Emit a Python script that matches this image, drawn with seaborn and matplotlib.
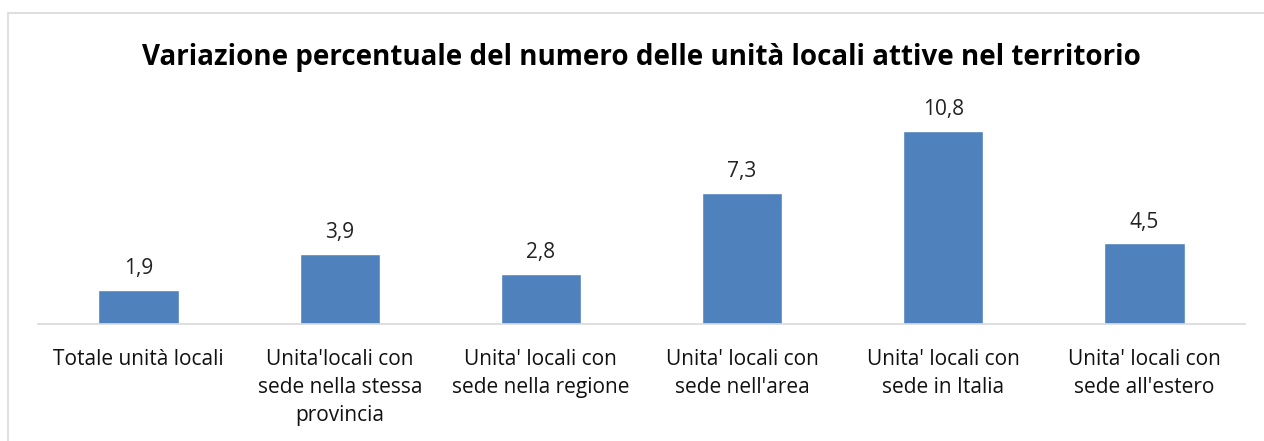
import seaborn as sns
import matplotlib.pyplot as plt
from matplotlib.patches import Rectangle

categories = [
    "Totale unità locali",
    "Unita'locali con\nsede nella stessa\nprovincia",
    "Unita' locali con\nsede nella regione",
    "Unita' locali con\nsede nell'area",
    "Unita' locali con\nsede in Italia",
    "Unita' locali con\nsede all'estero",
]
values = [1.9, 3.9, 2.8, 7.3, 10.8, 4.5]
value_labels = ["1,9", "3,9", "2,8", "7,3", "10,8", "4,5"]

sns.set_style("white")
plt.rcParams["font.family"] = ["Open Sans", "DejaVu Sans"]

fig = plt.figure(figsize=(12.64, 4.41), dpi=100)
ax = fig.add_axes([38 / 1264, 1 - 324 / 441, (1245 - 38) / 1264, (324 - 109) / 441])

sns.barplot(x=categories, y=values, color="#4F81BD", width=0.4, saturation=1, ax=ax)
ax.set_ylim(0, 12)
ax.set_xlim(-0.5, 5.5)

for i, (v, lab) in enumerate(zip(values, value_labels)):
    ax.text(i, v + 0.6, lab, ha="center", va="bottom", fontsize=15, color="#222222")

ax.set_yticks([])
for s in ["top", "right", "left"]:
    ax.spines[s].set_visible(False)
ax.spines["bottom"].set_color("#D9D9D9")
ax.spines["bottom"].set_linewidth(1.2)
ax.tick_params(axis="x", length=0, pad=18, labelsize=15, colors="#111111")
for t in ax.get_xticklabels():
    t.set_linespacing(1.45)
ax.set_xlabel("")

fig.text(641 / 1264, 1 - 57 / 441, "Variazione percentuale del numero delle unità locali attive nel territorio",
         ha="center", va="center", fontsize=20, fontweight="bold", color="black")

fig.patches.append(Rectangle((8 / 1264, -0.05), 1.1, 1 - 13 / 441 + 0.05, transform=fig.transFigure,
                             fill=False, edgecolor="#D9D9D9", linewidth=1.2))

fig.savefig("out.png", dpi=100)
